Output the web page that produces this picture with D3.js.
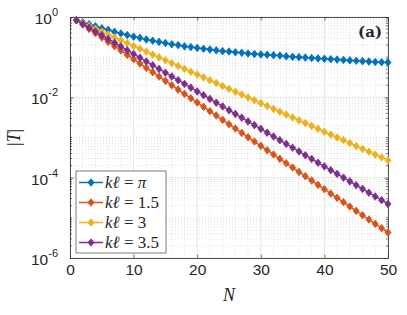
<!DOCTYPE html>
<html>
<head>
<meta charset="utf-8">
<script src="https://cdn.jsdelivr.net/npm/d3@7"></script>
<style>
body { margin: 0; background: #fff; }
text { fill: #262626; }
</style>
</head>
<body>
<script>
// number of cells N (1..50)
var cells = d3.range(1, 51);

// |T|, one value per N
var tPi = [0.832, 0.741, 0.661, 0.589, 0.525, 0.479, 0.427, 0.389, 0.355, 0.324,
    0.302, 0.275, 0.257, 0.240, 0.224, 0.209, 0.200, 0.186, 0.178, 0.170,
    0.162, 0.155, 0.148, 0.141, 0.138, 0.132, 0.129, 0.123, 0.120, 0.117,
    0.115, 0.112, 0.110, 0.105, 0.102, 0.100, 0.0977, 0.0955, 0.0933, 0.0912,
    0.0891, 0.0871, 0.0851, 0.0832, 0.0813, 0.0794, 0.0776, 0.0759, 0.0750, 0.0741];
var t15 = [0.832, 0.649, 0.506, 0.395, 0.308, 0.240, 0.187, 0.146, 0.114, 0.0890,
    0.0694, 0.0541, 0.0422, 0.0329, 0.0257, 0.0200, 0.0156, 0.0122, 0.00952, 0.00743,
    0.00579, 0.00452, 0.00352, 0.00275, 0.00214, 0.00167, 0.00130, 0.00102, 7.94e-4, 6.19e-4,
    4.83e-4, 3.77e-4, 2.94e-4, 2.29e-4, 1.79e-4, 1.39e-4, 1.09e-4, 8.48e-5, 6.61e-5, 5.16e-5,
    4.02e-5, 3.14e-5, 2.45e-5, 1.91e-5, 1.49e-5, 1.16e-5, 9.06e-6, 7.07e-6, 5.51e-6, 4.30e-6];
var t3 = [0.832, 0.706, 0.599, 0.509, 0.432, 0.367, 0.311, 0.264, 0.224, 0.190,
    0.162, 0.137, 0.116, 0.0988, 0.0839, 0.0712, 0.0604, 0.0513, 0.0435, 0.0370,
    0.0314, 0.0266, 0.0226, 0.0192, 0.0163, 0.0138, 0.0117, 0.00996, 0.00845, 0.00717,
    0.00609, 0.00517, 0.00439, 0.00372, 0.00316, 0.00268, 0.00228, 0.00193, 0.00164, 0.00139,
    0.00118, 0.00100, 8.52e-4, 7.23e-4, 6.14e-4, 5.21e-4, 4.42e-4, 3.75e-4, 3.19e-4, 2.70e-4];
var t35 = [0.832, 0.671, 0.541, 0.437, 0.352, 0.284, 0.229, 0.185, 0.149, 0.120,
    0.0970, 0.0782, 0.0631, 0.0509, 0.0411, 0.0331, 0.0267, 0.0216, 0.0174, 0.0140,
    0.0113, 0.00913, 0.00736, 0.00594, 0.00479, 0.00386, 0.00312, 0.00251, 0.00203, 0.00164,
    0.00132, 0.00106, 8.58e-4, 6.92e-4, 5.58e-4, 4.50e-4, 3.63e-4, 2.93e-4, 2.36e-4, 1.91e-4,
    1.54e-4, 1.24e-4, 1.00e-4, 8.07e-5, 6.51e-5, 5.25e-5, 4.23e-5, 3.41e-5, 2.75e-5, 2.22e-5];

var legendNums = ["π", "1.5", "3", "3.5"];
var xTicks = [0, 10, 20, 30, 40, 50];
var yTickExp = [0, -2, -4, -6];

var series = [
    { vals: tPi, color: "#0072BD" },
    { vals: t15, color: "#D95319" },
    { vals: t3, color: "#EDB120" },
    { vals: t35, color: "#7E2F8E" }
];

var W = 407, H = 315;
var pL = 70, pR = 388, pT = 17, pB = 258;

var svg = d3.select("body").append("svg")
    .attr("width", W)
    .attr("height", H)
    .style("font-family", "'Liberation Sans', Arial, sans-serif");

var x = d3.scaleLinear().domain([0, 50]).range([pL, pR]);
var y = d3.scaleLog().domain([1e-6, 1]).range([pB, pT]);

// minor ticks on the log axis: 2..9 of every decade, plus the unlabeled decades
var minorY = [];
for (var e = -6; e < 0; e++) {
    for (var m = 1; m < 10; m++) {
        if (m == 1 && e % 2 == 0) continue;
        minorY.push(m * Math.pow(10, e));
    }
}
var minorX = d3.range(2, 50, 2).filter(function(d) { return d % 10 != 0; });

var grid = svg.append("g");
grid.selectAll(".ym").data(minorY).enter().append("line")
    .attr("x1", pL).attr("x2", pR)
    .attr("y1", function(d) { return y(d); }).attr("y2", function(d) { return y(d); })
    .style("stroke", "#cfcfcf").style("stroke-width", 0.6).style("stroke-dasharray", "1,2");
grid.selectAll(".xm").data(minorX).enter().append("line")
    .attr("y1", pT).attr("y2", pB)
    .attr("x1", function(d) { return x(d); }).attr("x2", function(d) { return x(d); })
    .style("stroke", "#cfcfcf").style("stroke-width", 0.6).style("stroke-dasharray", "1,2");
grid.selectAll(".yM").data(yTickExp).enter().append("line")
    .attr("x1", pL).attr("x2", pR)
    .attr("y1", function(d) { return y(Math.pow(10, d)); }).attr("y2", function(d) { return y(Math.pow(10, d)); })
    .style("stroke", "#e0e0e0").style("stroke-width", 0.8);
grid.selectAll(".xM").data(xTicks).enter().append("line")
    .attr("y1", pT).attr("y2", pB)
    .attr("x1", function(d) { return x(d); }).attr("x2", function(d) { return x(d); })
    .style("stroke", "#e0e0e0").style("stroke-width", 0.8);

// axes, ticks inward
var xAxis = svg.append("g")
    .attr("transform", "translate(0," + pB + ")")
    .call(d3.axisBottom(x).tickValues(xTicks).tickSizeInner(-3.5).tickSizeOuter(0).tickPadding(6));
xAxis.selectAll("text").style("font-size", "15.5px").style("fill", "#262626").style("font-family", "'Liberation Sans', Arial, sans-serif");
svg.append("g")
    .attr("transform", "translate(0," + pT + ")")
    .call(d3.axisTop(x).tickValues(xTicks).tickSizeInner(-3.5).tickSizeOuter(0).tickFormat(""));

var yAxis = svg.append("g")
    .attr("transform", "translate(" + pL + ",0)")
    .call(d3.axisLeft(y).tickValues(yTickExp.map(function(d) { return Math.pow(10, d); }))
        .tickSizeInner(-3.5).tickSizeOuter(0).tickFormat(""));
var yAxisR = svg.append("g")
    .attr("transform", "translate(" + pR + ",0)")
    .call(d3.axisRight(y).tickValues(yTickExp.map(function(d) { return Math.pow(10, d); }))
        .tickSizeInner(-3.5).tickSizeOuter(0).tickFormat(""));
yAxis.append("g").selectAll("line").data(minorY).enter().append("line")
    .attr("x1", 0).attr("x2", 2)
    .attr("y1", function(d) { return y(d); }).attr("y2", function(d) { return y(d); })
    .style("stroke", "#262626").style("stroke-width", 0.6);
yAxisR.append("g").selectAll("line").data(minorY).enter().append("line")
    .attr("x1", 0).attr("x2", -2)
    .attr("y1", function(d) { return y(d); }).attr("y2", function(d) { return y(d); })
    .style("stroke", "#262626").style("stroke-width", 0.6);

svg.selectAll(".domain").style("stroke", "#262626").style("stroke-width", 0.8);
svg.selectAll(".tick line").style("stroke", "#262626").style("stroke-width", 0.6);

// y tick labels as 10 with superscript
var ylab = svg.append("g").selectAll("text").data(yTickExp).enter().append("text")
    .attr("x", pL - 12)
    .attr("y", function(d) { return y(Math.pow(10, d)) + 7; })
    .attr("text-anchor", "end")
    .style("font-size", "15.5px");
ylab.append("tspan").text("10");
ylab.append("tspan").attr("dy", -8).style("font-size", "11px").text(function(d) { return d; });

// lines + diamond markers
var line = d3.line()
    .x(function(d, i) { return x(cells[i]); })
    .y(function(d) { return y(d); });
var diamond = "M0,-3.8L3,0L0,3.8L-3,0Z";

series.forEach(function(s) {
    svg.append("path")
        .datum(s.vals)
        .attr("d", line)
        .style("fill", "none")
        .style("stroke", s.color)
        .style("stroke-width", 1.5);
    svg.append("g").selectAll("path").data(s.vals).enter().append("path")
        .attr("d", diamond)
        .attr("transform", function(d, i) { return "translate(" + x(cells[i]) + "," + y(d) + ")"; })
        .style("fill", s.color)
        .style("stroke", s.color)
        .style("stroke-width", 0.8);
});

// axis labels
svg.append("text")
    .attr("x", (pL + pR) / 2)
    .attr("y", 301)
    .attr("text-anchor", "middle")
    .style("font-family", "'Liberation Serif', serif")
    .style("font-style", "italic")
    .style("font-size", "18px")
    .text("N");

svg.append("text")
    .attr("transform", "translate(20," + ((pT + pB) / 2) + ") rotate(-90)")
    .attr("text-anchor", "middle")
    .style("font-family", "'Liberation Serif', serif")
    .style("font-size", "18px")
    .html("|<tspan font-style='italic'>T</tspan>|");

svg.append("text")
    .attr("x", pR - 6)
    .attr("y", 37)
    .attr("text-anchor", "end")
    .style("font-family", "'DejaVu Serif', serif")
    .style("font-weight", "bold")
    .style("font-size", "15px")
    .text("(a)");

// legend
var lg = svg.append("g");
lg.append("rect")
    .attr("x", 76).attr("y", 171).attr("width", 90).attr("height", 82)
    .style("fill", "#fff").style("stroke", "#262626").style("stroke-width", 0.6);
series.forEach(function(s, i) {
    var ly = 182.5 + i * 20;
    lg.append("line").attr("x1", 79).attr("x2", 103).attr("y1", ly).attr("y2", ly)
        .style("stroke", s.color).style("stroke-width", 1.5);
    lg.append("path").attr("d", diamond)
        .attr("transform", "translate(91," + ly + ")")
        .style("fill", s.color).style("stroke", s.color).style("stroke-width", 0.8);
    var t = lg.append("text")
        .attr("x", 105).attr("y", ly + 5.5)
        .style("font-family", "'Liberation Serif', serif")
        .style("font-size", "17px");
    t.append("tspan").style("font-style", "italic").text("kℓ");
    t.append("tspan").text(" = ");
    t.append("tspan").style("font-style", legendNums[i] == "π" ? "italic" : "normal").text(legendNums[i]);
});
</script>
</body>
</html>
